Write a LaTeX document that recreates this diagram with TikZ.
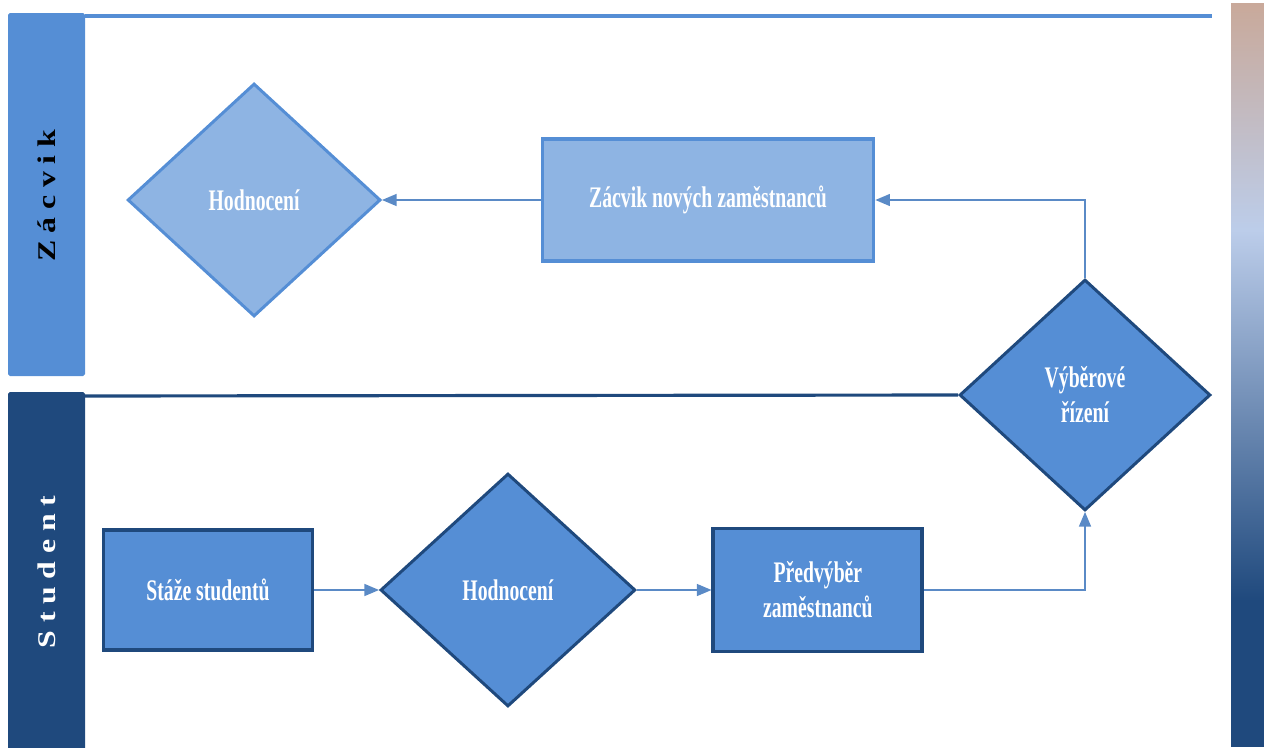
\documentclass[tikz,border=0pt]{standalone}
\usepackage{fontspec}
\setmainfont{Liberation Serif}
\newfontfamily\boxfont{Liberation Serif}[FakeStretch=0.66]
\newfontfamily\lanefont{Liberation Serif}[FakeStretch=1.25, LetterSpace=30]
\usetikzlibrary{arrows, shapes.geometric, positioning}

\definecolor{midblue}{HTML}{558ED5}
\definecolor{lightblue}{HTML}{8EB4E3}
\definecolor{darkblue}{HTML}{1F497D}
\definecolor{linkblue}{HTML}{5A8AC6}
\definecolor{barTan}{HTML}{C9A99A}
\definecolor{paleblue}{HTML}{BCCDEA}

\begin{document}
\begin{tikzpicture}[x=0.02cm, y=-0.02cm, >=triangle 45]
  \tikzstyle{every node}=[font=\boxfont\bfseries\fontsize{17}{20}\selectfont, text=white, align=center]
  \tikzstyle{process}=[rectangle, line width=2.2pt, inner sep=2pt]
  \tikzstyle{decision}=[diamond, line width=1.7pt, inner sep=0pt]
  \tikzstyle{upper}=[fill=lightblue, draw=midblue]
  \tikzstyle{lower}=[fill=midblue, draw=darkblue]
  \tikzstyle{lane}=[rotate=90, font=\lanefont\bfseries\fontsize{14.5}{17}\selectfont]
  \tikzstyle{flow}=[->, draw=linkblue, line width=0.9pt]

  \useasboundingbox (0,0) rectangle (1264,747);

  % swimlanes
  \fill[midblue, rounded corners=1pt] (8,13) rectangle (85,376);
  \draw[midblue, line width=2.3pt] (85,16) -- (1212,16);
  \node[lane, text=black] (zacvik lane) at (47,196) {Zácvik};
  \fill[darkblue, rounded corners=1pt] (8,392) rectangle (85,760);
  \node[lane, text=white] (student lane) at (47,572) {Student};

  % side bar
  \shade[top color=barTan, bottom color=paleblue] (1231,3) rectangle (1264,231);
  \shade[top color=paleblue, bottom color=darkblue] (1231,230) rectangle (1264,601);
  \fill[darkblue] (1231,600) rectangle (1264,747);

  % student lane
  \node[process, lower, minimum width=4.18cm, minimum height=2.40cm] (staze) at (208,590) {Stáže studentů};
  \node[decision, lower, minimum width=5.10cm, minimum height=4.66cm, node distance=6cm] (hodn2) [right of=staze] {Hodnocení};
  \node[process, lower, minimum width=4.18cm, minimum height=2.46cm, node distance=6.2cm] (predvyber) [right of=hodn2] {Předvýběr\\zaměstnanců};
  \node[decision, lower, minimum width=5.02cm, minimum height=4.62cm] (vyber) at (1085,395) {Výběrové\\řízení};

  % zacvik lane
  \node[process, upper, minimum width=6.62cm, minimum height=2.44cm] (zacvik) at (708,200) {Zácvik nových zaměstnanců};
  \node[decision, upper, minimum width=5.06cm, minimum height=4.66cm, node distance=9.08cm] (hodn1) [left of=zacvik] {Hodnocení};

  \draw[darkblue, line width=1.8pt] (85,396) -- (vyber.west);

  \draw[flow] (staze.east) -- (hodn2.west);
  \draw[flow] (hodn2.east) -- (predvyber.west);
  \draw[flow] (predvyber.east) -| (vyber.south);
  \draw[flow] (vyber.north) |- (zacvik.east);
  \draw[flow] (zacvik.west) -- (hodn1.east);
\end{tikzpicture}
\end{document}
